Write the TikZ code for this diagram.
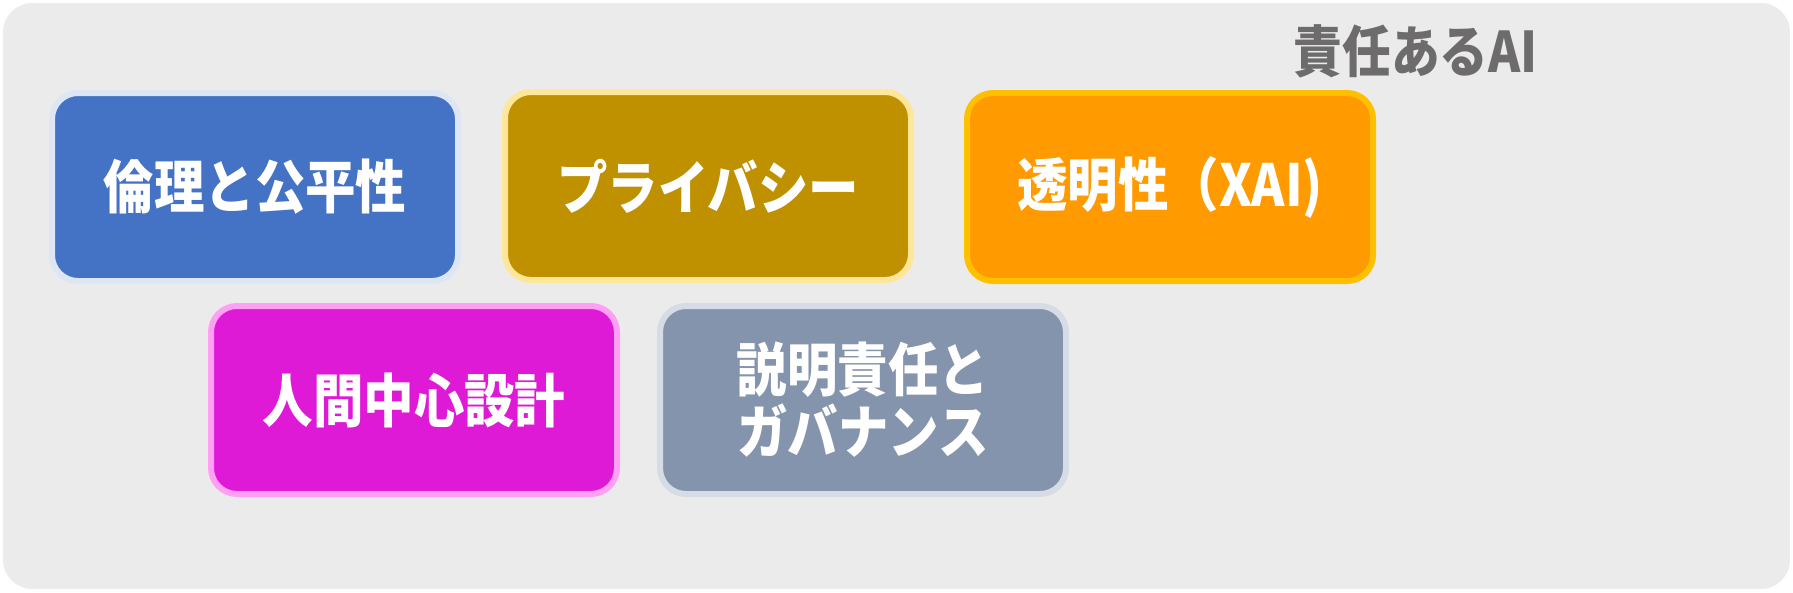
\documentclass[tikz,border=0pt]{standalone}
\usepackage{fontspec}
\setmainfont{Noto Sans CJK JP}
\newfontfamily\cardfont{Noto Sans CJK JP}[FakeStretch=0.87]
\definecolor{bgc}{HTML}{EBEBEB}
\definecolor{titlec}{HTML}{6D6B6B}
\definecolor{bluef}{HTML}{4472C4}
\definecolor{blueh}{HTML}{DCE6F4}
\definecolor{olivef}{HTML}{BF9000}
\definecolor{oliveh}{HTML}{FFE699}
\definecolor{orangef}{HTML}{FF9A00}
\definecolor{orangeh}{HTML}{FFC000}
\definecolor{magf}{HTML}{DF1AD7}
\definecolor{magh}{HTML}{FFA0F5}
\definecolor{grayf}{HTML}{8494AC}
\definecolor{grayh}{HTML}{D6DCE5}
\tikzset{
  cardbox/.style={rectangle, rounded corners=26pt, line width=6pt,
    minimum width=406pt, minimum height=188pt, text=white, align=center,
    font=\cardfont\fontsize{58}{62}\selectfont\bfseries, inner sep=0pt},
  titletext/.style={anchor=east, text=titlec,
    font=\cardfont\fontsize{56}{60}\selectfont\bfseries, inner sep=0pt}
}
\begin{document}
\begin{tikzpicture}[x=1pt,y=-1pt]
\useasboundingbox (0,0) rectangle (1793,592);
\fill[white] (0,0) rectangle (1793,592);
\draw[fill=bgc, draw=white!96!bgc, line width=2pt, rounded corners=30pt] (2,2) rectangle (1791,590);
\node[titletext] (title) at (1538,51) {責任あるAI};
\node[cardbox, fill=bluef, draw=blueh] (ethics) at (255,187) {倫理と公平性};
\node[cardbox, fill=olivef, draw=oliveh] (privacy) at (708,186) {プライバシー};
\node[cardbox, fill=orangef, draw=orangeh] (xai) at (1170,187) {透明性（XAI)};
\node[cardbox, fill=magf, draw=magh] (human) at (414,400) {人間中心設計};
\node[cardbox, fill=grayf, draw=grayh] (gov) at (863,400) {説明責任と\\ガバナンス};
\end{tikzpicture}
\end{document}
